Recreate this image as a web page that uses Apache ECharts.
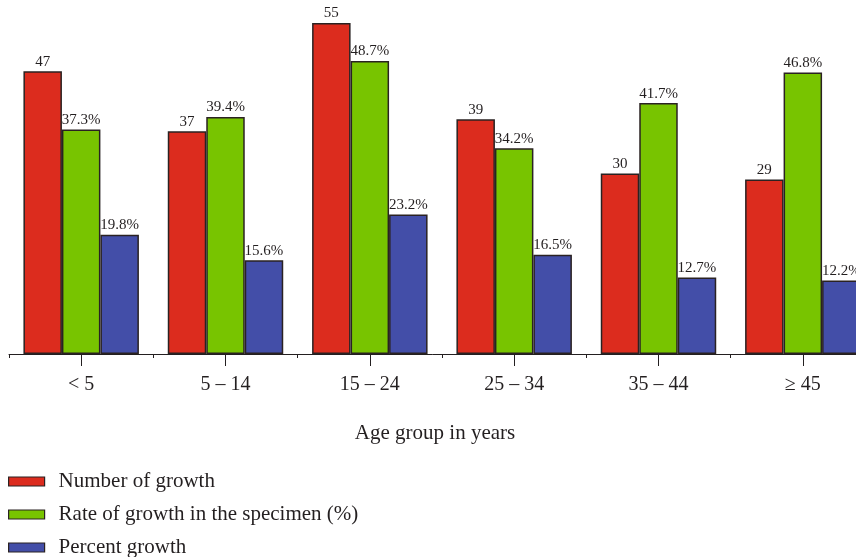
<!DOCTYPE html>
<html>
<head>
<meta charset="utf-8">
<script src="https://cdn.jsdelivr.net/npm/echarts@6/dist/echarts.min.js"></script>
<style>
  html, body { margin: 0; padding: 0; background: #fff; }
  #chart { width: 856px; height: 557px; }
</style>
</head>
<body>
<div id="chart"></div>
<script>
// Age groups and the three measures per group
const ageGroups = ['< 5', '5 – 14', '15 – 24', '25 – 34', '35 – 44', '≥ 45'];
const numberOfGrowth = [47, 37, 55, 39, 30, 29];
const rateInSpecimen = [37.3, 39.4, 48.7, 34.2, 41.7, 46.8];
const percentGrowth = [19.8, 15.6, 23.2, 16.5, 12.7, 12.2];

const seriesNames = ['Number of growth', 'Rate of growth in the specimen (%)', 'Percent growth'];
const seriesLabelFormats = [v => String(v), v => v.toFixed(1) + '%', v => v.toFixed(1) + '%'];
const seriesColors = ['#dc2c1e', '#78c400', '#434ea8'];
const seriesValues = [numberOfGrowth, rateInSpecimen, percentGrowth];

const FONT = '"Liberation Serif", "DejaVu Serif", serif';
const INK = '#231f20';
const EDGE = '#2a2222';

const chart = echarts.init(document.getElementById('chart'), null, { renderer: 'canvas' });

// one legend block per series, stacked down the bottom-left corner
const legendTops = [471, 504, 537];
const legends = seriesNames.map((name, i) => ({
  orient: 'vertical',
  left: 8,
  top: legendTops[i],
  padding: 0,
  itemWidth: 36,
  itemHeight: 9,
  icon: 'rect',
  itemStyle: { borderColor: EDGE, borderWidth: 1.2 },
  textStyle: { fontFamily: FONT, fontSize: 21, color: INK, lineHeight: 21, padding: [0, 0, 0, 9] },
  data: [name]
}));

chart.setOption({
  animation: false,
  backgroundColor: '#ffffff',
  textStyle: { fontFamily: FONT, color: INK },
  // the plot runs past the right edge, so the last group is cut off
  grid: { left: 9, width: 866, top: 5, bottom: 203, containLabel: false, outerBoundsMode: 'none' },
  xAxis: [
    {
      type: 'category',
      data: ageGroups,
      axisLine: { show: true, lineStyle: { color: INK, width: 1 } },
      axisTick: { show: true, length: 4, lineStyle: { color: INK, width: 1 } },
      axisLabel: { color: INK, fontFamily: FONT, fontSize: 20, margin: 21 },
      splitLine: { show: false }
    },
    {
      type: 'category',
      data: ageGroups,
      position: 'bottom',
      axisLine: { show: false },
      axisTick: { show: true, alignWithLabel: true, length: 12, lineStyle: { color: INK, width: 1 } },
      axisLabel: { show: false },
      splitLine: { show: false }
    }
  ],
  yAxis: {
    type: 'value',
    min: 0,
    max: 58,
    show: false,
    splitLine: { show: false }
  },
  legend: legends,
  graphic: [
    {
      type: 'text',
      x: 435,
      y: 433,
      style: {
        text: 'Age group in years',
        fill: INK,
        font: '21px ' + FONT,
        textAlign: 'center',
        textVerticalAlign: 'middle'
      }
    }
  ],
  series: seriesNames.map((name, i) => ({
    name: name,
    type: 'bar',
    xAxisIndex: 0,
    data: seriesValues[i],
    barGap: '0%',
    barCategoryGap: '20%',
    itemStyle: { color: seriesColors[i], borderColor: EDGE, borderWidth: 1.5 },
    label: {
      show: true,
      position: 'top',
      distance: 2,
      fontFamily: FONT,
      fontSize: 15,
      color: INK,
      formatter: p => seriesLabelFormats[i](p.value)
    }
  }))
});
</script>
</body>
</html>
